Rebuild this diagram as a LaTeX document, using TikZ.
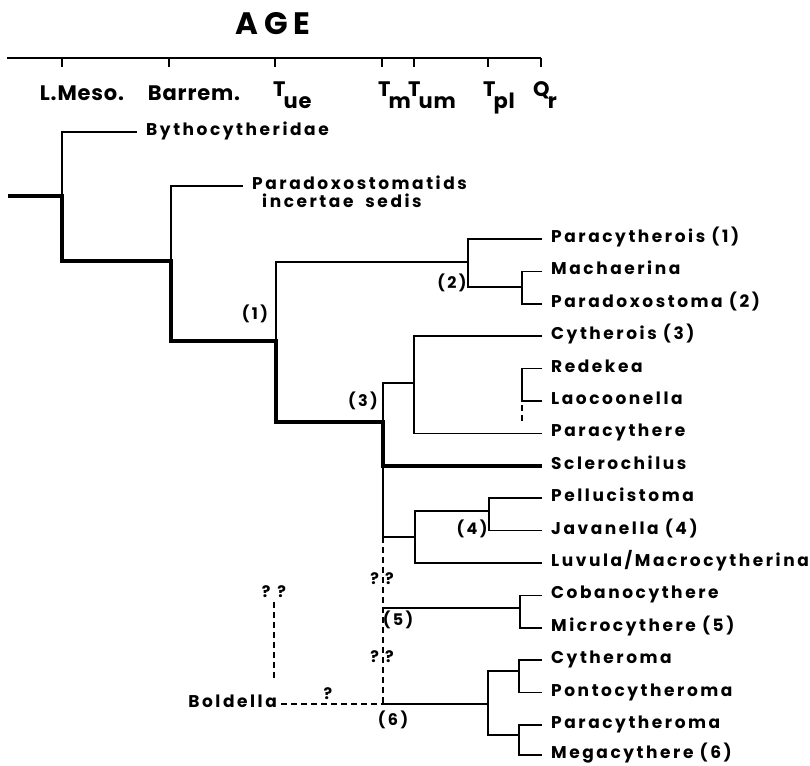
\documentclass[tikz,border=0pt]{standalone}
\usepackage{fontspec}
\setmainfont{Poppins}
\newfontfamily\taxfont{Poppins}[LetterSpace=15]
\newfontfamily\periodfont{Poppins}[LetterSpace=4]
\newfontfamily\titlefont{Poppins}[LetterSpace=18]
\usetikzlibrary{positioning}
\newcommand{\agesub}[2]{#1\kern-2pt\raisebox{-12pt}{#2}}
\tikzset{
  stem/.style={line width=4.5pt, line join=miter, line cap=butt},
  branch/.style={line width=1.6pt},
  dashbranch/.style={line width=1.4pt, dash pattern=on 6pt off 4pt},
  axisline/.style={line width=1.6pt},
  taxon/.style={
    anchor=west, inner xsep=9pt, inner ysep=0pt,
    text height=0.7em, text depth=0pt,
    font=\fontsize{17}{20}\taxfont\bfseries
  },
  leaf/.style={taxon, minimum height=32pt},
  leafbelow/.style={leaf, below=0pt of #1.south west, anchor=north west},
  period/.style={anchor=base west, inner sep=0pt,
    font=\fontsize{21}{24}\periodfont\bfseries},
  clade/.style={inner sep=0pt, font=\fontsize{16}{19}\taxfont\bfseries},
  query/.style={inner sep=0pt, font=\fontsize{16}{19}\taxfont\bfseries},
}
\begin{document}
\begin{tikzpicture}[x=1pt, y=-1pt]
\useasboundingbox (0,0) rectangle (810,765);

% time axis
\node[inner sep=0pt, font=\fontsize{31}{34}\titlefont\bfseries] (age) at (273,24) {AGE};
\coordinate (axis-left) at (7,58);
\coordinate (axis-right) at (541,58);
\draw[axisline] (axis-left) -- (axis-right);
\foreach \x in {62,169,275,382,414,488,541}
  \draw[axisline] (\x,58) -- (\x,67);
\node[period, anchor=base] (lmeso) at (82,100) {L.Meso.};
\node[period, anchor=base] (barrem) at (194,100) {Barrem.};
\node[period] (tue) at (273,97) {\agesub{T}{ue}};
\node[period] (tm) at (378,97) {\agesub{T}{m}};
\node[period] (tum) at (408,97) {\agesub{T}{um}};
\node[period] (tpl) at (483,97) {\agesub{T}{pl}};
\node[period] (qr) at (533,97) {\agesub{Q}{r}};

% taxa
\node[taxon] (bytho) at (137,132) {Bythocytheridae};
\node[taxon] (paradox) at (243,186) {Paradoxostomatids};
\node[taxon, below=10.3pt of paradox.south west, anchor=north west, xshift=10pt] (incertae) {incertae\hspace{12pt}sedis};
\node[leaf] (paracytherois) at (542,239) {Paracytherois (1)};
\node[leafbelow=paracytherois] (machaerina) {Machaerina};
\node[leafbelow=machaerina] (paradoxostoma) {Paradoxostoma (2)};
\node[leafbelow=paradoxostoma] (cytherois) {Cytherois (3)};
\node[leafbelow=cytherois] (redekea) {Redekea};
\node[leafbelow=redekea] (laocoonella) {Laocoonella};
\node[leafbelow=laocoonella] (paracythere) {Paracythere};
\node[leafbelow=paracythere] (sclerochilus) {Sclerochilus};
\node[leafbelow=sclerochilus] (pellucistoma) {Pellucistoma};
\node[leafbelow=pellucistoma] (javanella) {Javanella (4)};
\node[leafbelow=javanella] (luvula) {Luvula/Macrocytherina};
\node[leafbelow=luvula] (cobanocythere) {Cobanocythere};
\node[leafbelow=cobanocythere] (microcythere) {Microcythere (5)};
\node[leafbelow=microcythere] (cytheroma) {Cytheroma};
\node[leafbelow=cytheroma] (pontocytheroma) {Pontocytheroma};
\node[leafbelow=pontocytheroma] (paracytheroma) {Paracytheroma};
\node[taxon, below=10.05pt of paracytheroma.south west, anchor=north west] (megacythere) {Megacythere (6)};
\node[taxon, anchor=east, inner xsep=4pt] (boldella) at (281,704) {Boldella};

% branching points
\coordinate (root) at (8,196);
\coordinate (j0) at (62,196);
\coordinate (j1) at (171,261);
\coordinate (j2) at (276,341);
\coordinate (j3) at (383,422);
\coordinate (j3b) at (383,463);
\coordinate (j4) at (383,537);
\coordinate (j5) at (383,608);
\coordinate (j6) at (383,704);
\coordinate (n2) at (468,262);
\coordinate (n2a) at (522,287);
\coordinate (n3) at (414,383);
\coordinate (n3a) at (522,383);
\coordinate (n4) at (415,537);
\coordinate (n4a) at (489,511);
\coordinate (n5) at (520,608);
\coordinate (n6) at (488,704);
\coordinate (n6a) at (519,671);
\coordinate (n6b) at (519,735);

% main stem
\draw[stem] (root) -- (j0) |- (j1) |- (j2) |- (j3) |- (sclerochilus.west);

% side branches
\draw[branch] (j0) |- (bytho.west);
\draw[branch] (j1) |- (paradox.west);
\draw[branch] (j2) |- (n2);
\draw[branch] (paracytherois.west) -| (n2) |- (n2a);
\draw[branch] (machaerina.west) -| (n2a) |- (paradoxostoma.west);
\draw[branch] (j3) |- (n3);
\draw[branch] (cytherois.west) -| (n3) |- (paracythere.west);
\draw[branch] (redekea.west) -| (n3a) |- (laocoonella.west);
\coordinate (lao-top) at (522,405);
\coordinate (lao-bot) at (522,424);
\draw[dashbranch] (lao-top) -- (lao-bot);
\draw[branch] (j3b) |- (n4);
\draw[branch] (luvula.west) -| (n4) |- (n4a);
\draw[branch] (pellucistoma.west) -| (n4a) |- (javanella.west);
\draw[dashbranch] (j4) -- (j6);
\draw[branch] (j5) -- (n5);
\draw[branch] (cobanocythere.west) -| (n5) |- (microcythere.west);
\draw[branch] (j6) -- (n6);
\draw[branch] (n6a) -| (n6) |- (n6b);
\draw[branch] (cytheroma.west) -| (n6a) |- (pontocytheroma.west);
\draw[branch] (paracytheroma.west) -| (n6b) |- (megacythere.west);

% Boldella
\draw[dashbranch] (boldella.east) -- (j6);
\node[query] (bold-q) at (274,592) {?\hspace{7pt}?};
\coordinate (bold-bot) at (274,682);
\draw[dashbranch] (bold-q.south) ++(0,4) -- (bold-bot);
\node[query] (bold-q2) at (328,694) {?};
\node[query] (stem-q5) at (382,579) {?\hspace{6pt}?};
\node[query] (stem-q6) at (382,657) {?\hspace{6pt}?};

% clade numbers
\node[clade] (c1) at (255,314) {(1)};
\node[clade] (c2) at (452,283) {(2)};
\node[clade] (c3) at (363,401) {(3)};
\node[clade] (c4) at (472,529) {(4)};
\node[clade] (c5) at (398,620) {(5)};
\node[clade] (c6) at (393,720) {(6)};
\end{tikzpicture}
\end{document}
